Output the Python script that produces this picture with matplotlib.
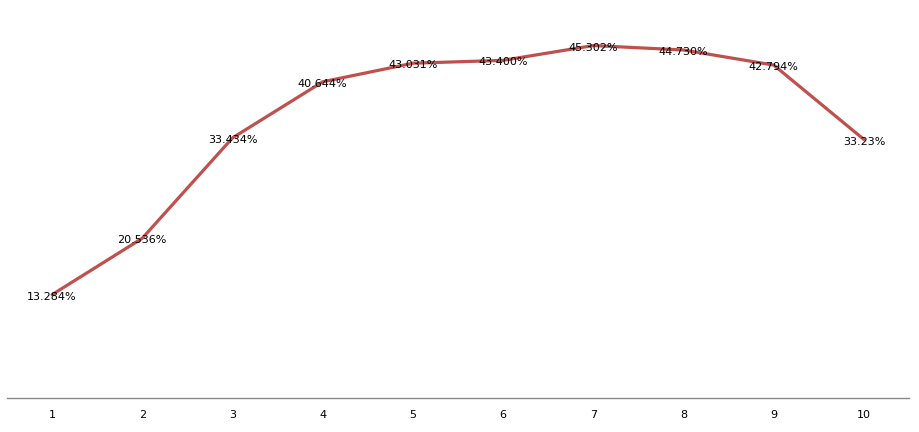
import matplotlib
matplotlib.use("Agg")
import matplotlib.pyplot as plt

categories = [1, 2, 3, 4, 5, 6, 7, 8, 9, 10]
values = [13.284, 20.536, 33.434, 40.644, 43.031, 43.400, 45.302, 44.730, 42.794, 33.23]
labels = ["13.284%", "20.536%", "33.434%", "40.644%", "43.031%", "43.400%",
          "45.302%", "44.730%", "42.794%", "33.23%"]

fig = plt.figure(figsize=(9.19, 4.32), dpi=100)
W, H = 919, 432
ax = fig.add_axes([7 / W, (H - 398) / H, (909 - 7) / W, (398 - 9) / H])
x = list(range(len(categories)))
ax.plot(x, values, color="#C0504D", linewidth=2.3, solid_capstyle="round", zorder=2)
for xi, v, lab in zip(x, values, labels):
    ax.annotate(lab, (xi, v), xytext=(0, -1.5), textcoords="offset points",
                ha="center", va="center", fontsize=8,
                family="DejaVu Sans", color="black", zorder=3)
ax.set_xlim(-0.5, len(categories) - 0.5)
ax.set_ylim(0, 50)
ax.set_xticks(x)
ax.set_xticklabels([str(c) for c in categories], fontsize=8)
ax.tick_params(axis="x", length=0, pad=9)
ax.set_yticks([])
for s in ["left", "right", "top"]:
    ax.spines[s].set_visible(False)
ax.spines["bottom"].set_color("#888888")
ax.spines["bottom"].set_linewidth(1)
fig.savefig("out.png", dpi=100)
